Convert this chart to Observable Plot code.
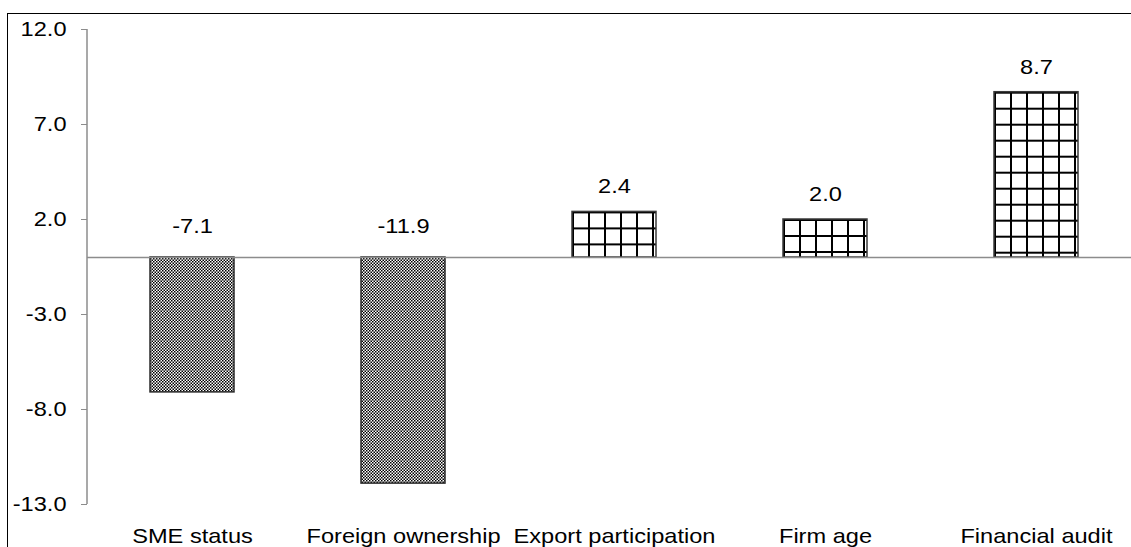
<!DOCTYPE html>
<html>
<head>
<meta charset="utf-8">
<script src="https://cdn.jsdelivr.net/npm/d3@7"></script>
<script src="https://cdn.jsdelivr.net/npm/@observablehq/plot@0.6"></script>
<style>
  html, body { margin: 0; padding: 0; background: #fff; overflow: hidden; width: 1131px; height: 547px; }
  #frame { position: absolute; left: 7px; top: 13px; width: 3000px; height: 3000px;
           border-left: 1px solid #000; border-top: 1px solid #000; }
  #chart { position: absolute; left: 0; top: 0; width: 1150px; }
  #chart svg { max-width: none !important; }
</style>
</head>
<body>
<div id="frame"></div>
<div id="chart"></div>
<script>
const categories = ["SME status", "Foreign ownership", "Export participation", "Firm age", "Financial audit"];
const values = [-7.1, -11.9, 2.4, 2.0, 8.7];
const yTicks = [12, 7, 2, -3, -8, -13];
const yDomain = [-13, 12];

const data = categories.map((c, i) => ({category: c, value: values[i]}));
const neg = data.filter(d => d.value < 0);
const pos = data.filter(d => d.value >= 0);
const fmt = v => v.toFixed(1);

const marginLeft = 87;
const chart = Plot.plot({
  width: 1150,
  height: 547,
  marginLeft,
  marginRight: 8,
  marginTop: 29,
  marginBottom: 43,
  style: {fontFamily: "'Liberation Sans', Arial, sans-serif", fontSize: "20px", color: "#000", background: "transparent", maxWidth: "none"},
  x: {domain: categories, paddingInner: 0.6, paddingOuter: 0.3, label: null},
  y: {domain: yDomain, label: null},
  marks: [
    Plot.barY(neg, {x: "category", y: "value", fill: "url(#checker)", stroke: "#2a2a2a", strokeWidth: 1.5}),
    Plot.barY(pos, {x: "category", y: "value", fill: "#fff", stroke: "#3a3a3a", strokeWidth: 1.5}),
    Plot.ruleY([0], {stroke: "#8c8c8c", strokeWidth: 1.5}),
    Plot.text(pos, {x: "category", y: "value", text: d => fmt(d.value), dy: -25, fontSize: 20, fill: "#000"}),
    Plot.text(neg, {x: "category", y: () => 0, text: d => fmt(d.value), dy: -31, fontSize: 20, fill: "#000"}),
    Plot.axisY({ticks: yTicks, tickSize: 6, tickPadding: 15, tickFormat: fmt, label: null, stroke: "#8c8c8c", fontSize: 20}),
    Plot.axisX({tickSize: 0, tickPadding: 24, label: null, fontSize: 20})
  ]
});

const svg = d3.select(chart);
const defs = svg.insert("defs", ":first-child");
// fine checker pattern for negative bars
const ck = defs.append("pattern").attr("id", "checker").attr("patternUnits", "userSpaceOnUse")
  .attr("width", 3).attr("height", 3);
ck.append("rect").attr("width", 3).attr("height", 3).attr("fill", "#fff");
ck.append("rect").attr("width", 1.5).attr("height", 1.5).attr("fill", "#000");
ck.append("rect").attr("x", 1.5).attr("y", 1.5).attr("width", 1.5).attr("height", 1.5).attr("fill", "#000");

// grid pattern anchored at each positive bar's top-left corner
const barGroups = svg.selectAll('g[aria-label="bar"]').nodes();
d3.select(barGroups[1]).selectAll("rect").each(function(_, i) {
  const r = d3.select(this);
  const id = "grid" + i;
  const p = defs.append("pattern").attr("id", id).attr("patternUnits", "userSpaceOnUse")
    .attr("x", +r.attr("x")).attr("y", +r.attr("y")).attr("width", 16).attr("height", 16);
  p.append("rect").attr("width", 16).attr("height", 16).attr("fill", "#fff");
  p.append("rect").attr("width", 2).attr("height", 16).attr("fill", "#000");
  p.append("rect").attr("width", 16).attr("height", 2).attr("fill", "#000");
  r.attr("fill", `url(#${id})`);
});

// horizontal stretch of the Arial-like text, around each text's anchor point
const stretch = 1.18;
svg.selectAll("text").each(function() {
  const t = d3.select(this);
  const tr = t.attr("transform") || "";
  t.attr("transform", `${tr} scale(${stretch},1)`);
});

// y-axis domain line from the y scale
const ys = chart.scale("y");
svg.append("line")
  .attr("x1", marginLeft).attr("x2", marginLeft)
  .attr("y1", ys.apply(yDomain[1])).attr("y2", ys.apply(yDomain[0]))
  .attr("stroke", "#8c8c8c").attr("stroke-width", 1.5);

document.getElementById("chart").appendChild(chart);
</script>
</body>
</html>
